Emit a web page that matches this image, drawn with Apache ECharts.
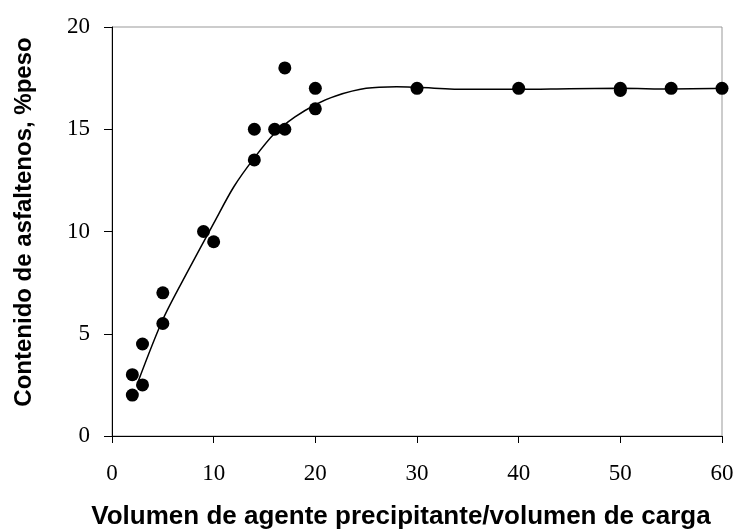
<!DOCTYPE html>
<html>
<head>
<meta charset="utf-8">
<script src="https://cdn.jsdelivr.net/npm/echarts@6/dist/echarts.min.js"></script>
<style>
  html, body { margin: 0; padding: 0; background: #fff; }
  #chart { width: 735px; height: 529px; }
</style>
</head>
<body>
<div id="chart"></div>
<script>
// measured points: volume ratio vs asphaltene content (%weight)
var ratioX = [2, 2, 3, 3, 5, 5, 9, 10, 14, 14, 16, 17, 17, 20, 20, 30, 40, 50, 50, 55, 60];
var contentY = [2, 3, 2.5, 4.5, 5.5, 7, 10, 9.5, 13.5, 15, 15, 15, 18, 16, 17, 17, 17, 16.9, 17, 17, 17];

// trend line
var trendX = [2.6, 5, 7.5, 10, 12, 14, 16, 18, 20, 22, 25, 28, 30, 35, 40, 45, 50, 55, 60];
var trendY = [2.7, 5.7, 8.1, 10.4, 12.2, 13.6, 14.8, 15.6, 16.2, 16.63, 17.0, 17.08, 17.05, 16.95, 16.95, 16.98, 17.0, 16.97, 17.0];

var xTicks = { min: 0, max: 60, interval: 10 };
var yTicks = { min: 0, max: 20, interval: 5 };

function pairs(xs, ys) {
  var out = [];
  for (var i = 0; i < xs.length; i++) {
    out.push([xs[i], ys[i]]);
  }
  return out;
}

var chart = echarts.init(document.getElementById('chart'), null, { renderer: 'canvas' });

var option = {
  backgroundColor: '#ffffff',
  animation: false,
  grid: {
    left: 112,
    right: 13,
    top: 27,
    bottom: 93,
    outerBoundsMode: 'none',
    containLabel: false,
    show: true,
    borderColor: '#999999',
    borderWidth: 1
  },
  xAxis: {
    type: 'value',
    min: xTicks.min,
    max: xTicks.max,
    interval: xTicks.interval,
    name: 'Volumen de agente precipitante/volumen de carga',
    nameLocation: 'middle',
    nameGap: 68,
    nameTextStyle: {
      fontFamily: 'Liberation Sans',
      fontWeight: 'bold',
      fontSize: 26,
      color: '#000',
      padding: [0, 32, 0, 0]
    },
    axisLine: { lineStyle: { color: '#000', width: 1 } },
    axisTick: { inside: false, length: 7, lineStyle: { color: '#000' } },
    axisLabel: {
      margin: 26,
      fontFamily: 'Liberation Serif',
      fontSize: 23,
      color: '#000'
    },
    splitLine: { show: false }
  },
  yAxis: {
    type: 'value',
    min: yTicks.min,
    max: yTicks.max,
    interval: yTicks.interval,
    name: 'Contenido de asfaltenos, %peso',
    nameLocation: 'middle',
    nameGap: 76,
    nameTextStyle: {
      fontFamily: 'Liberation Sans',
      fontWeight: 'bold',
      fontSize: 24,
      color: '#000',
      padding: [0, 0, 0, 19]
    },
    axisLine: { show: true, lineStyle: { color: '#000', width: 1 } },
    axisTick: { show: true, inside: false, length: 8, lineStyle: { color: '#000' } },
    axisLabel: {
      margin: 22,
      fontFamily: 'Liberation Serif',
      fontSize: 23,
      color: '#000'
    },
    splitLine: { show: false }
  },
  series: [
    {
      type: 'line',
      data: pairs(trendX, trendY),
      smooth: 0.3,
      showSymbol: false,
      lineStyle: { color: '#000', width: 1.5 },
      z: 2
    },
    {
      type: 'scatter',
      data: pairs(ratioX, contentY),
      symbol: 'circle',
      symbolSize: 13,
      itemStyle: { color: '#000', opacity: 1 },
      z: 3
    }
  ]
};

chart.setOption(option);
</script>
</body>
</html>
